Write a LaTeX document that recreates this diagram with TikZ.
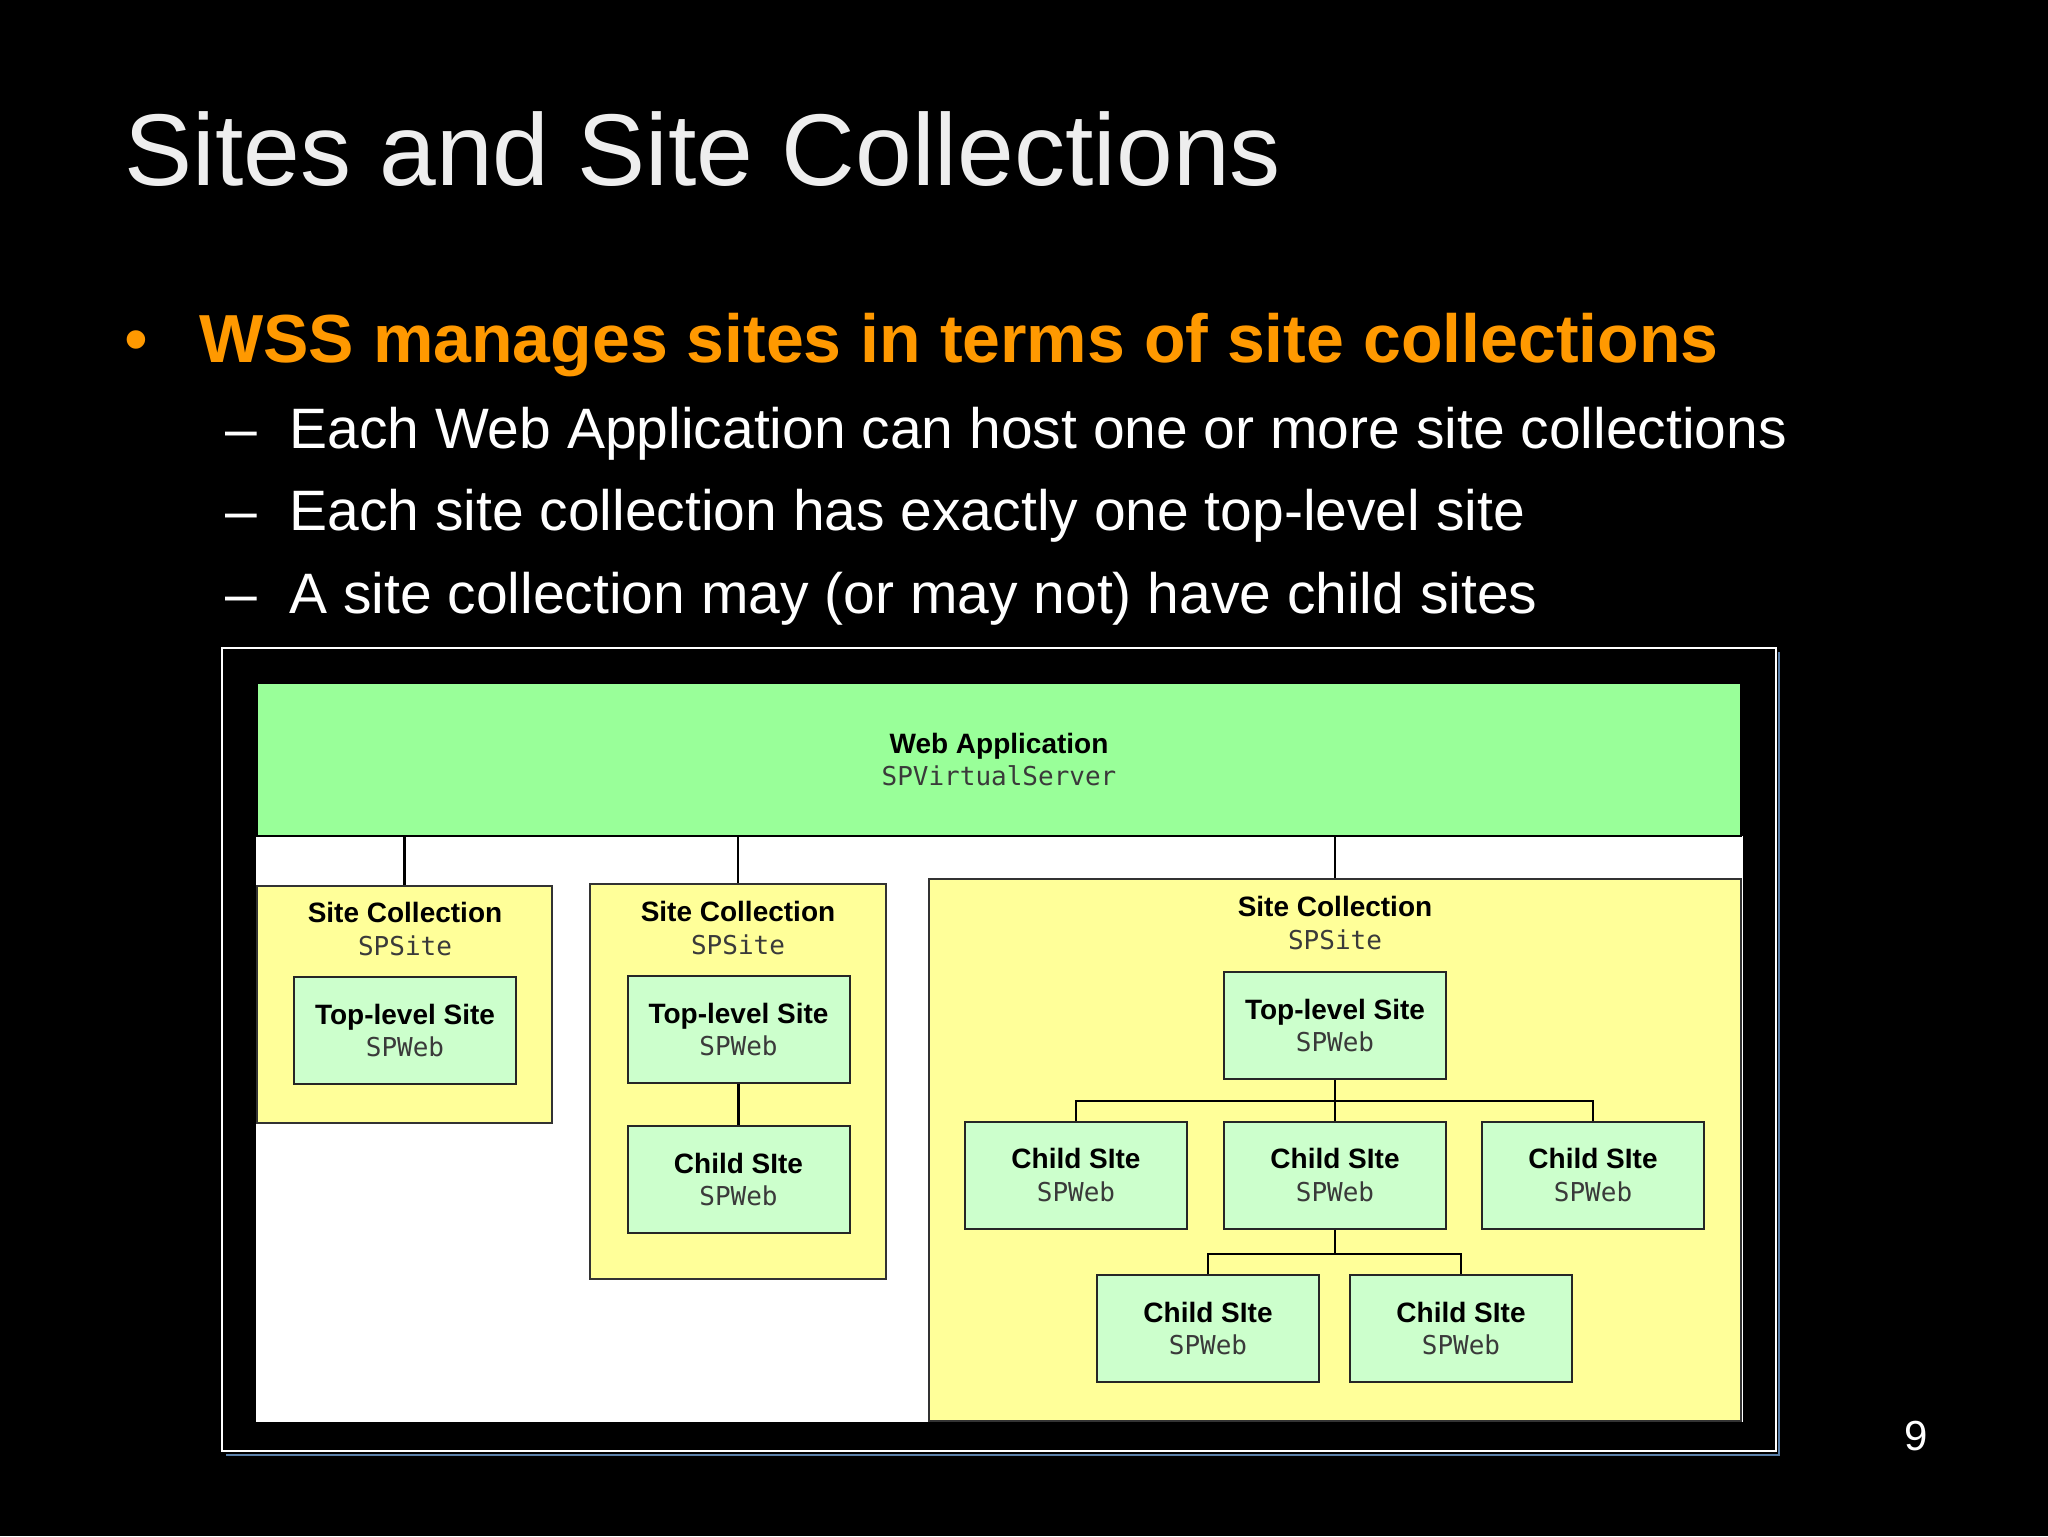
\documentclass[tikz,border=0pt]{standalone}
\usepackage{fontspec}
\setmainfont{Liberation Sans}
\newfontfamily\monofont{DejaVu Sans Mono}
\definecolor{orng}{HTML}{FF9900}
\definecolor{webgreen}{HTML}{99FF99}
\definecolor{scyellow}{HTML}{FFFF99}
\definecolor{sitegreen}{HTML}{CCFFCC}
\definecolor{frameblue}{HTML}{5A7FA8}
\definecolor{titlegray}{HTML}{EEEEEE}
\definecolor{monogray}{HTML}{3A3A3A}
\newcommand\mksite[2]{{\bfseries #1}\\{\fontsize{13pt}{16.4pt}\selectfont\monofont\color{monogray}#2}}
\begin{document}
\begin{tikzpicture}[x=0.5pt,y=-0.5pt,
  boxfont/.style={font=\fontsize{14pt}{16.4pt}\selectfont},
  sitebox/.style={boxfont, draw=black!85, line width=1pt, fill=sitegreen, minimum width=111pt, minimum height=53.5pt, align=center, inner sep=0pt},
  collbox/.style={draw=black!80, line width=0.8pt, fill=scyellow, inner sep=0pt},
  conn/.style={draw=black, line width=1.2pt},
  slide/.style={anchor=base west, inner sep=0pt},
  lbl/.style={boxfont, inner sep=0pt, align=center}]
\useasboundingbox (0,0) rectangle (2048,1536);
\fill[black] (0,0) rectangle (2048,1536);

% texts
\node[slide, text=titlegray, font=\fontsize{51pt}{60pt}\selectfont] (title) at (124,185) {Sites and Site Collections};
\node[slide, text=orng, font=\fontsize{34pt}{40pt}\selectfont] (bul) at (124,362) {•};
\node[slide, text=orng, font=\fontsize{34pt}{40pt}\selectfont\bfseries] (b1) at (199,362) {WSS manages sites in terms of site collections};
\node[slide, text=white, font=\fontsize{28.5pt}{34pt}\selectfont] (d1) at (225,448) {–};
\node[slide, text=white, font=\fontsize{28.5pt}{34pt}\selectfont] (s1) at (289,448) {Each Web Application can host one or more site collections};
\node[slide, text=white, font=\fontsize{28.5pt}{34pt}\selectfont] (d2) at (225,530) {–};
\node[slide, text=white, font=\fontsize{28.5pt}{34pt}\selectfont] (s2) at (289,530) {Each site collection has exactly one top-level site};
\node[slide, text=white, font=\fontsize{28.5pt}{34pt}\selectfont] (d3) at (225,613) {–};
\node[slide, text=white, font=\fontsize{28.5pt}{34pt}\selectfont] (s3) at (289,613) {A site collection may (or may not) have child sites};
\node[slide, text=white, font=\fontsize{21pt}{25pt}\selectfont] (pg) at (1904,1450) {9};

% frame
\draw[frameblue, line width=1.2pt] (226,1455) -- (1779,1455) -- (1779,652);
\draw[white, line width=1.2pt] (222,648) rectangle (1776,1451);
\fill[white] (256,836) rectangle (1743,1422);

% web application
\node[boxfont, draw=black, line width=0.8pt, fill=webgreen, minimum width=742pt, minimum height=76.5pt, align=center, inner sep=0pt] (web) at (999,759.5) {\mksite{Web Application}{SPVirtualServer}};

% site collections
\node[collbox, minimum width=147.5pt, minimum height=118.5pt] (sc1) at (404.5,1004.5) {};
\node[collbox, minimum width=148pt, minimum height=197.5pt] (sc2) at (738,1081.5) {};
\node[collbox, minimum width=406pt, minimum height=271pt] (sc3) at (1335,1150) {};

\node[lbl] (sc1l) at (405,929) {\mksite{Site Collection}{SPSite}};
\node[lbl] (sc2l) at (738,928) {\mksite{Site Collection}{SPSite}};
\node[lbl] (sc3l) at (1335,923) {\mksite{Site Collection}{SPSite}};

\draw[conn] (web.south -| sc1.north) -- (sc1.north);
\draw[conn] (web.south -| sc2.north) -- (sc2.north);
\draw[conn] (web.south -| sc3.north) -- (sc3.north);

% sites
\node[sitebox] (tl1) at (405,1030.5) {\mksite{Top-level Site}{SPWeb}};
\node[sitebox] (tl2) at (738.5,1029.5) {\mksite{Top-level Site}{SPWeb}};
\node[sitebox] (cs2) at (738.5,1179.5) {\mksite{Child SIte}{SPWeb}};
\draw[conn] (tl2.south) -- (cs2.north);

\node[sitebox] (tl3) at (1335,1025.5) {\mksite{Top-level Site}{SPWeb}};
\node[sitebox] (ca) at (1076,1175) {\mksite{Child SIte}{SPWeb}};
\node[sitebox] (cb) at (1335,1175) {\mksite{Child SIte}{SPWeb}};
\node[sitebox] (cc) at (1593,1175) {\mksite{Child SIte}{SPWeb}};
\node[sitebox] (cd) at (1208,1328.5) {\mksite{Child SIte}{SPWeb}};
\node[sitebox] (ce) at (1461,1328.5) {\mksite{Child SIte}{SPWeb}};

\coordinate (bus1) at (1335,1101);
\coordinate (bus2) at (1335,1254);
\draw[conn] (tl3.south) -- (cb.north);
\draw[conn] (ca.north) -- (ca.north |- bus1) -- (cc.north |- bus1) -- (cc.north);
\draw[conn] (cb.south) -- (bus2);
\draw[conn] (cd.north) -- (cd.north |- bus2) -- (ce.north |- bus2) -- (ce.north);
\end{tikzpicture}
\end{document}
